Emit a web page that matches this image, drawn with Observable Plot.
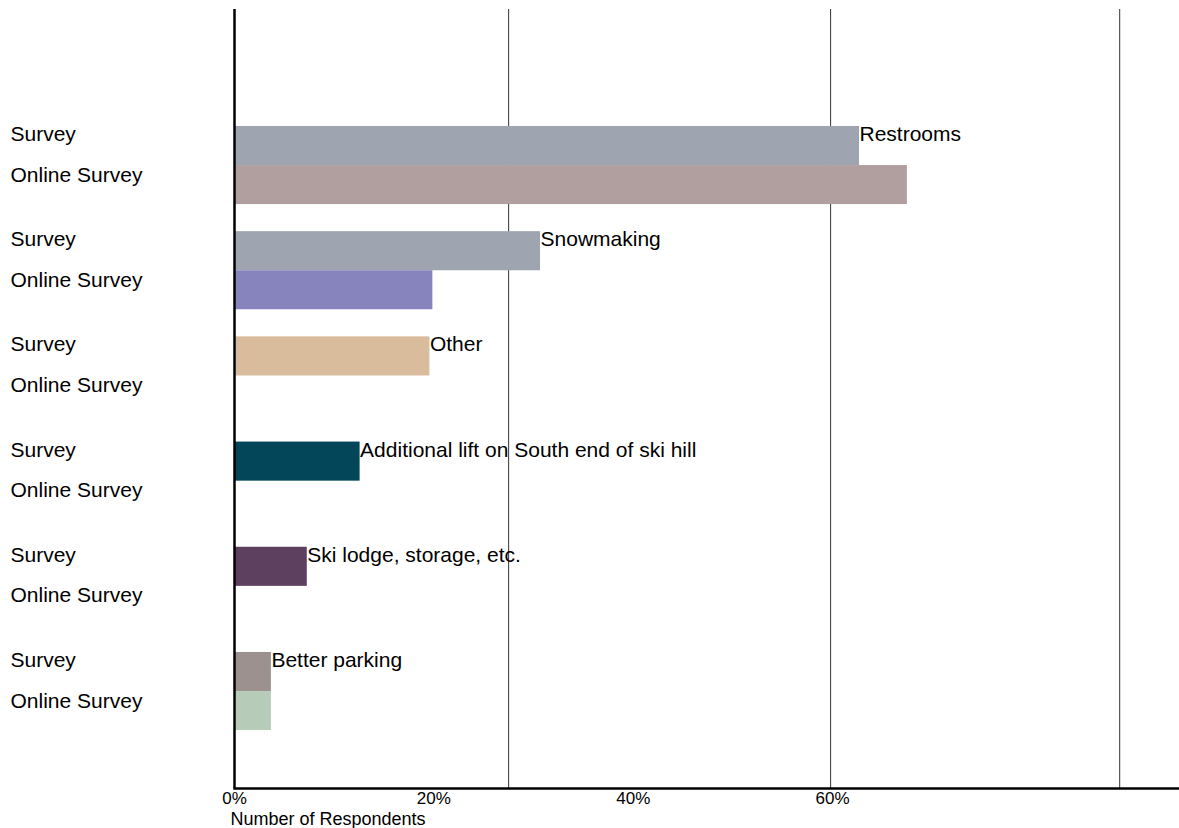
<!DOCTYPE html>
<html>
<head>
<meta charset="utf-8">
<script src="https://cdn.jsdelivr.net/npm/d3@7"></script>
<script src="https://cdn.jsdelivr.net/npm/@observablehq/plot@0.6"></script>
<style>
  html, body { margin: 0; padding: 0; background: #fff; }
  #chart { width: 1179px; height: 828px; }
</style>
</head>
<body>
<div id="chart"></div>
<script>
// ---- data ----
const categories = [
  "Restrooms",
  "Snowmaking",
  "Other",
  "Additional lift on South end of ski hill",
  "Ski lodge, storage, etc.",
  "Better parking"
];
const seriesNames = ["Survey", "Online Survey"];
const surveyValues = [62.7, 30.7, 19.6, 12.6, 7.3, 3.7];
const onlineValues = [67.5, 19.9, null, null, null, 3.7];
const surveyColors = ["#9ea5b1", "#9ea5b1", "#d8bc9b", "#03465a", "#5d405f", "#9c918f"];
const onlineColors = ["#b19f9f", "#8783bd", null, null, null, "#b6ccb8"];
const xTicks = [0, 20, 40, 60];
const gridValues = [27.5, 59.8, 88.8];
const xLabel = "Number of Respondents";

// ---- build rows ----
const rows = [];
categories.forEach((c, i) => {
  rows.push({category: c, series: seriesNames[0], key: c + "|" + seriesNames[0], value: surveyValues[i], color: surveyColors[i]});
  rows.push({category: c, series: seriesNames[1], key: c + "|" + seriesNames[1], value: onlineValues[i], color: onlineColors[i]});
});
const yDomain = rows.map(d => d.key);
const surveyRows = rows.filter(d => d.series === seriesNames[0]);
const onlineRows = rows.filter(d => d.series === seriesNames[1]);

const font = "'Liberation Sans', Arial, Helvetica, sans-serif";

const chart = Plot.plot({
  width: 1179,
  height: 828,
  marginTop: 9,
  marginBottom: 40,
  marginLeft: 234,
  marginRight: 0,
  style: {fontFamily: font, fontSize: "18px", color: "#000", background: "#fff", overflow: "visible"},
  x: {domain: [0, 94.8]},
  y: {domain: yDomain, axis: null, paddingInner: 0, paddingOuter: 1.405, align: 0.70, round: false},
  marks: [
    Plot.ruleX(gridValues, {stroke: "#333", strokeWidth: 1}),
    Plot.barX(surveyRows.filter(d => d.value != null), {x: "value", y: "key", fill: "color", insetTop: 13.5, insetBottom: 0}),
    Plot.barX(onlineRows.filter(d => d.value != null), {x: "value", y: "key", fill: "color", insetTop: 0, insetBottom: 13.6}),
    Plot.text(surveyRows, {y: "key", text: "series", frameAnchor: "left", dx: -224, dy: -5, textAnchor: "start", fontSize: 21, fill: "#000"}),
    Plot.text(onlineRows, {y: "key", text: "series", frameAnchor: "left", dx: -224, dy: -17, textAnchor: "start", fontSize: 21, fill: "#000"}),
    Plot.text(surveyRows, {x: "value", y: "key", text: "category", dy: -5, textAnchor: "start", fontSize: 21, fill: "#000"}),
    Plot.ruleX([0], {stroke: "#000", strokeWidth: 2.5}),
    Plot.frame({anchor: "bottom", stroke: "#000", strokeWidth: 2.5}),
    Plot.axisX({ticks: xTicks, tickFormat: d => d + "%", tickSize: 0, tickPadding: 3, label: null, fontSize: 17}),
    Plot.text([xLabel], {text: d => d, frameAnchor: "bottom-left", dx: -4, dy: 36, textAnchor: "start", fontSize: 18, fill: "#000"})
  ]
});
document.getElementById("chart").appendChild(chart);
</script>
</body>
</html>
